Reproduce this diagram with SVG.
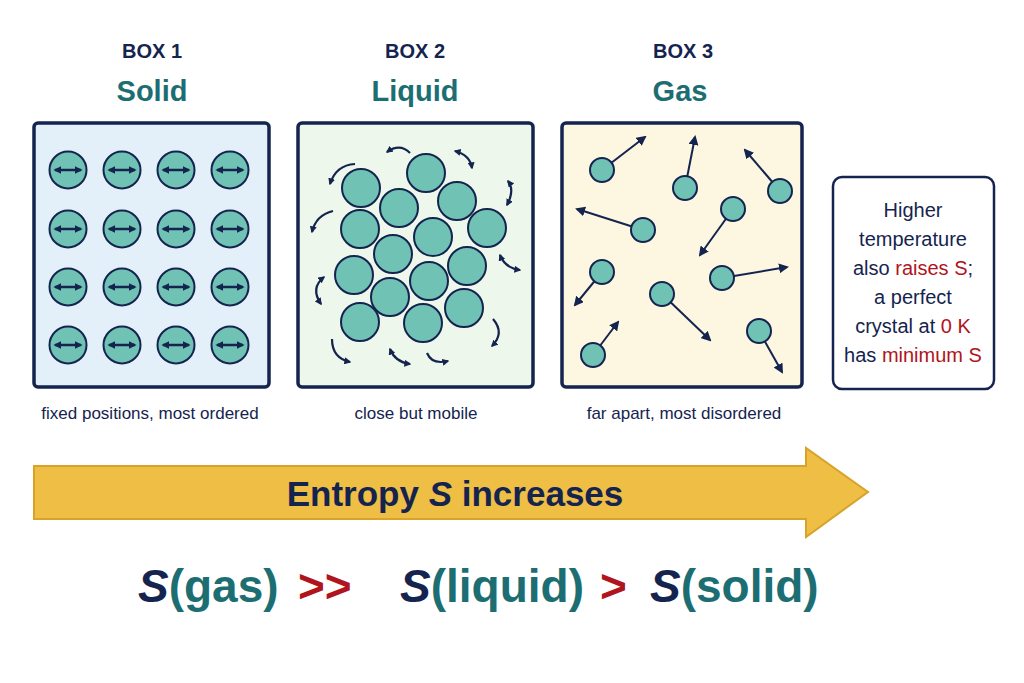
<svg xmlns="http://www.w3.org/2000/svg" width="1024" height="683" viewBox="0 0 1024 683">
<defs>
<marker id="ah" viewBox="0 0 10 10" refX="8" refY="5" markerWidth="5" markerHeight="5" orient="auto-start-reverse"><path d="M0,0L10,5L0,10z" fill="#15244f"/></marker>
<marker id="sh" viewBox="0 0 10 10" refX="8" refY="5" markerWidth="3.2" markerHeight="3.2" orient="auto-start-reverse"><path d="M0,0L10,5L0,10z" fill="#15244f"/></marker>
<g id="sm"><circle r="18.5" fill="#6fc2b4" stroke="#15244f" stroke-width="2"/><line x1="-13" y1="0" x2="13" y2="0" stroke="#15244f" stroke-width="2.5" marker-start="url(#sh)" marker-end="url(#sh)"/></g>
</defs>
<style>
.bx{stroke:#15244f;stroke-width:3.5}
.m{fill:#6fc2b4;stroke:#15244f;stroke-width:2}
.a{stroke:#15244f;stroke-width:2;fill:none;marker-end:url(#ah)}
.c{stroke:#15244f;stroke-width:2.2;fill:none;marker-end:url(#sh)}
.t{font-family:"Liberation Sans",Arial,sans-serif;text-anchor:middle}
.h1{font-size:20px;font-weight:bold;fill:#15244f}
.h2{font-size:29px;font-weight:bold;fill:#1d6e72}
.cap{font-size:17px;fill:#15244f}
</style>
<rect width="1024" height="683" fill="#fff"/>
<g id="box1">
<text class="t h1" x="152" y="58">BOX 1</text><text class="t h2" x="152" y="101">Solid</text>
<rect class="bx" x="34" y="123" width="235" height="264" rx="4" fill="#e3f0fa"/>
<use href="#sm" x="68" y="170"/><use href="#sm" x="122" y="170"/><use href="#sm" x="176" y="170"/><use href="#sm" x="230" y="170"/>
<use href="#sm" x="68" y="229"/><use href="#sm" x="122" y="229"/><use href="#sm" x="176" y="229"/><use href="#sm" x="230" y="229"/>
<use href="#sm" x="68" y="287"/><use href="#sm" x="122" y="287"/><use href="#sm" x="176" y="287"/><use href="#sm" x="230" y="287"/>
<use href="#sm" x="68" y="345"/><use href="#sm" x="122" y="345"/><use href="#sm" x="176" y="345"/><use href="#sm" x="230" y="345"/>
<text class="t cap" x="150" y="419">fixed positions, most ordered</text>
</g>
<g id="box2">
<text class="t h1" x="415" y="58">BOX 2</text><text class="t h2" x="415" y="101">Liquid</text>
<rect class="bx" x="298" y="123" width="235" height="264" rx="4" fill="#eef7ec"/>
<circle class="m" cx="361" cy="188" r="19"/><circle class="m" cx="426" cy="173" r="19"/><circle class="m" cx="399" cy="208" r="19"/><circle class="m" cx="457" cy="201" r="19"/><circle class="m" cx="487" cy="228" r="19"/>
<circle class="m" cx="360" cy="229" r="19"/><circle class="m" cx="433" cy="237" r="19"/><circle class="m" cx="393" cy="254" r="19"/><circle class="m" cx="354" cy="275" r="19"/><circle class="m" cx="467" cy="266" r="19"/>
<circle class="m" cx="429" cy="281" r="19"/><circle class="m" cx="390" cy="297" r="19"/><circle class="m" cx="360" cy="322" r="19"/><circle class="m" cx="423" cy="323" r="19"/><circle class="m" cx="464" cy="308" r="19"/>
<path class="c" d="M410,153 Q400,143 387,152"/>
<path class="c" d="M455,151 Q470,155 472,168" marker-start="url(#sh)"/>
<path class="c" d="M355,164 Q336,165 330,184"/>
<path class="c" d="M333,211 Q316,215 312,232"/>
<path class="c" d="M508,181 Q515,190 507,205" marker-start="url(#sh)"/>
<path class="c" d="M500,255 Q505,268 520,270" marker-start="url(#sh)"/>
<path class="c" d="M324,277 Q310,288 321,304" marker-start="url(#sh)"/>
<path class="c" d="M493,319 Q505,333 492,346"/>
<path class="c" d="M332,339 Q332,358 350,362"/>
<path class="c" d="M390,349 Q395,362 410,364" marker-start="url(#sh)"/>
<path class="c" d="M427,353 Q432,365 448,361"/>
<text class="t cap" x="416" y="419">close but mobile</text>
</g>
<g id="box3">
<text class="t h1" x="683" y="58">BOX 3</text><text class="t h2" x="680" y="101">Gas</text>
<rect class="bx" x="562" y="123" width="240" height="264" rx="4" fill="#fdf6e1"/>
<g>
<line class="a" x1="602" y1="170" x2="645" y2="137"/><line class="a" x1="685" y1="188" x2="695" y2="137"/><line class="a" x1="780" y1="191" x2="745" y2="150"/>
<line class="a" x1="643" y1="230" x2="577" y2="209"/><line class="a" x1="733" y1="209" x2="700" y2="255"/><line class="a" x1="602" y1="272" x2="575" y2="305"/>
<line class="a" x1="662" y1="294" x2="710" y2="340"/><line class="a" x1="722" y1="278" x2="787" y2="267"/><line class="a" x1="593" y1="355" x2="618" y2="322"/><line class="a" x1="759" y1="331" x2="782" y2="372"/>
</g>
<circle class="m" cx="602" cy="170" r="12"/><circle class="m" cx="685" cy="188" r="12"/><circle class="m" cx="780" cy="191" r="12"/><circle class="m" cx="643" cy="230" r="12"/><circle class="m" cx="733" cy="209" r="12"/>
<circle class="m" cx="602" cy="272" r="12"/><circle class="m" cx="662" cy="294" r="12"/><circle class="m" cx="722" cy="278" r="12"/><circle class="m" cx="593" cy="355" r="12"/><circle class="m" cx="759" cy="331" r="12"/>
<text class="t cap" x="684" y="419">far apart, most disordered</text>
</g>
<g id="note">
<rect x="833" y="177" width="161" height="212" rx="9" fill="#fff" stroke="#15244f" stroke-width="2.5"/>
<g class="t" font-size="20" fill="#15244f">
<text x="913" y="217">Higher</text><text x="913" y="246">temperature</text>
<text x="913" y="275">also <tspan fill="#b0141c">raises S</tspan>;</text>
<text x="913" y="304">a perfect</text>
<text x="913" y="333">crystal at <tspan fill="#b0141c">0 K</tspan></text>
<text x="913" y="362">has <tspan fill="#b0141c">minimum S</tspan></text>
</g>
</g>
<g id="arrow">
<path d="M34,466 H806 V448 L868,492 L806,537 V519 H34 Z" fill="#eebe45" stroke="#d9a22a" stroke-width="2"/>
<text class="t" x="455" y="506" font-size="35" font-weight="bold" fill="#15244f">Entropy <tspan font-style="italic">S</tspan> increases</text>
</g>
<g id="formula" font-family="'Liberation Sans',Arial,sans-serif" font-size="46" font-weight="bold">
<text x="138" y="602" fill="#15244f"><tspan font-style="italic">S</tspan><tspan fill="#1d6e72">(gas)</tspan></text>
<text x="298" y="602" fill="#b0141c">&gt;&gt;</text>
<text x="400" y="602" fill="#15244f"><tspan font-style="italic">S</tspan><tspan fill="#1d6e72">(liquid)</tspan></text>
<text x="600" y="602" fill="#b0141c">&gt;</text>
<text x="650" y="602" fill="#15244f"><tspan font-style="italic">S</tspan><tspan fill="#1d6e72">(solid)</tspan></text>
</g>
</svg>
